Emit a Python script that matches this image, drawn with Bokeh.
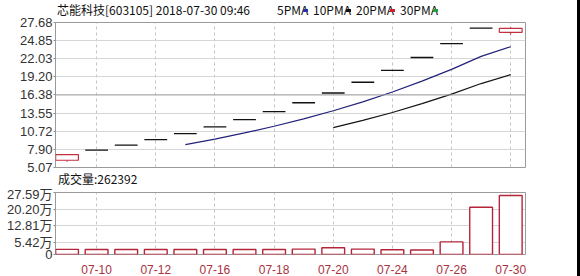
from bokeh.plotting import figure
from bokeh.models import (ColumnDataSource, FixedTicker, Span, CustomJSTickFormatter,
                          Range1d, Div)
from bokeh.layouts import column, row
from bokeh.embed import file_html
from bokeh.resources import INLINE

# ---------------- data ----------------
dates = ["07-09", "07-10", "07-11", "07-12", "07-13", "07-16", "07-17", "07-18",
         "07-19", "07-20", "07-23", "07-24", "07-25", "07-26", "07-27", "07-30"]
opens = [6.20, 7.78, 8.56, 9.42, 10.36, 11.40, 12.54, 13.79,
         15.17, 16.69, 18.36, 20.20, 22.22, 24.40, 26.80, 26.15]
highs = [7.07, 7.78, 8.56, 9.42, 10.36, 11.40, 12.54, 13.79,
         15.17, 16.69, 18.36, 20.20, 22.22, 24.40, 26.80, 26.95]
lows = [5.95, 7.78, 8.56, 9.42, 10.36, 11.40, 12.54, 13.79,
        15.17, 16.69, 18.36, 20.20, 22.22, 24.40, 26.80, 25.80]
closes = [7.07, 7.78, 8.56, 9.42, 10.36, 11.40, 12.54, 13.79,
          15.17, 16.69, 18.36, 20.20, 22.22, 24.40, 26.80, 26.75]
nan = float("nan")
ma5 = [nan, nan, nan, nan, 8.64, 9.50, 10.46, 11.50,
       12.65, 13.92, 15.31, 16.84, 18.53, 20.37, 22.40, 23.90]
ma10 = [nan, nan, nan, nan, nan, nan, nan, nan,
        nan, 11.28, 12.41, 13.65, 15.02, 16.52, 18.16, 19.55]
volumes = [2.3, 2.2, 2.2, 2.2, 2.2, 2.2, 2.2, 2.2,
           2.4, 3.0, 2.4, 2.1, 2.0, 5.6, 21.0, 26.2392]  # 万
price_ticks = [5.07, 7.90, 10.72, 13.55, 16.38, 19.20, 22.03, 24.85, 27.68]
vol_ticks = [0, 5.42, 12.81, 20.20, 27.59]
label_idx = [1, 3, 5, 7, 9, 11, 13, 15]
title_text = "芯能科技[603105] 2018-07-30 09:46"
vol_text = "成交量:262392"
legend_names = ["5PMA", "10PMA", "20PMA", "30PMA"]
legend_colors = ["#2233aa", "#111111", "#d02030", "#20a040"]

# ---------------- styles ----------------
RED = "#c23040"
BODY_W = 0.77
idx = list(range(len(dates)))
x_range = Range1d(-0.39, 15.5)
TICK_FONT = "Liberation Sans"
CJK_FONT = "Noto Sans CJK SC"
W = 577


def style(fig):
    fig.background_fill_color = "white"
    fig.border_fill_alpha = 0
    fig.outline_line_color = "#9a9a9a"
    fig.outline_line_width = 1
    for ax in fig.yaxis:
        ax.axis_line_color = None
        ax.major_tick_line_color = "#8a8a8a"
        ax.major_tick_out = 2
        ax.major_tick_in = 0
        ax.minor_tick_line_color = None
        ax.major_label_standoff = 1
        ax.major_label_text_font = TICK_FONT
        ax.major_label_text_font_size = "13px"
        ax.major_label_text_color = "#333333"
    fig.xgrid.ticker = FixedTicker(ticks=label_idx)
    fig.xgrid.grid_line_color = "#c4c4c4"
    fig.xgrid.grid_line_dash = "3 3"
    fig.ygrid.grid_line_color = "#d6d6d6"


# ---------------- header (title + MA legend) ----------------
span_css = "position:absolute;top:2px;line-height:16px;white-space:nowrap;"
parts = [f'<span style="{span_css}left:57px;">{title_text}</span>']
leg_x = [277, 313, 356, 400]
sq_x = [303, 346, 390, 433]
for name, col, lx, sx in zip(legend_names, legend_colors, leg_x, sq_x):
    parts.append(f'<span style="{span_css}left:{lx}px;">{name}</span>')
    parts.append(f'<span style="position:absolute;top:9px;left:{sx}px;width:5px;height:3px;'
                 f'background:{col};"></span>')
header_html = (f'<div style="position:relative;width:{W}px;height:15px;font-size:12px;'
               f'font-family:\'{CJK_FONT}\';color:#111;">' + "".join(parts) + "</div>")
header = Div(text=header_html, width=W, height=15, margin=0, styles={"overflow": "visible"})

# ---------------- price panel ----------------
p = figure(width=W, height=159, x_range=x_range, y_range=Range1d(price_ticks[0], price_ticks[-1]),
           output_backend="svg", toolbar_location=None,
           min_border_left=55, min_border_right=52, min_border_top=7, min_border_bottom=7)
p.xaxis.visible = False
style(p)
p.yaxis.ticker = FixedTicker(ticks=price_ticks)
p.yaxis.formatter = CustomJSTickFormatter(code="return tick.toFixed(2);")
p.ygrid.ticker = FixedTicker(ticks=price_ticks)
p.add_layout(Span(location=price_ticks[4], dimension="width", line_color="#a6a6a6", line_width=1))

up = [i for i in idx if closes[i] > opens[i]]
flat = [i for i in idx if closes[i] == opens[i]]
src_up = ColumnDataSource(dict(x=up, o=[opens[i] for i in up], c=[closes[i] for i in up],
                               h=[highs[i] for i in up], l=[lows[i] for i in up]))
src_flat = ColumnDataSource(dict(x0=[i - BODY_W / 2 for i in flat], x1=[i + BODY_W / 2 for i in flat],
                                 c=[closes[i] for i in flat]))
p.segment(x0="x", y0="l", x1="x", y1="h", source=src_up, line_color=RED, line_width=1)
p.vbar(x="x", width=BODY_W, bottom="o", top="c", source=src_up,
       fill_color="white", line_color=RED, line_width=1.2)
p.segment(x0="x0", y0="c", x1="x1", y1="c", source=src_flat, line_color="#111111", line_width=1.3)

p.line(idx, ma5, line_color="#22227a", line_width=1.2)
p.line(idx, ma10, line_color="#151515", line_width=1.2)

# ---------------- volume caption ----------------
vol_html = (f'<div style="position:relative;width:{W}px;height:12px;font-size:12px;'
            f'font-family:\'{CJK_FONT}\';color:#111;">'
            f'<span style="position:absolute;left:58px;top:-3px;line-height:16px;white-space:nowrap;">'
            f'{vol_text}</span></div>')
vol_caption = Div(text=vol_html, width=W, height=12, margin=0, styles={"overflow": "visible"})

# ---------------- volume panel ----------------
q = figure(width=W, height=90, x_range=x_range, y_range=Range1d(vol_ticks[0], vol_ticks[-1]),
           output_backend="svg", toolbar_location=None,
           min_border_left=55, min_border_right=52, min_border_top=6, min_border_bottom=20)
style(q)
q.yaxis.ticker = FixedTicker(ticks=vol_ticks)
q.yaxis.formatter = CustomJSTickFormatter(code='return tick == 0 ? "0" : tick.toFixed(2) + "万";')
q.yaxis.major_label_text_font = TICK_FONT + ", " + CJK_FONT
q.ygrid.ticker = FixedTicker(ticks=vol_ticks)
q.xaxis.ticker = FixedTicker(ticks=label_idx)
q.xaxis.major_label_overrides = {i: dates[i] for i in label_idx}
q.xaxis.axis_line_color = None
q.xaxis.major_tick_line_color = None
q.xaxis.minor_tick_line_color = None
q.xaxis.major_label_standoff = 4
q.xaxis.major_label_text_font = TICK_FONT
q.xaxis.major_label_text_font_size = "12px"
q.xaxis.major_label_text_color = "#a8323e"

q.vbar(x=idx, width=BODY_W, bottom=0, top=volumes, fill_color="white",
       line_color="#b3263a", line_width=1.4)

strip = Div(width=3, height=276, margin=0, styles={"background-color": "black"})
layout = row(column(header, p, vol_caption, q, spacing=0), strip, spacing=0)

open("out.html", "w").write(file_html(layout, INLINE))
